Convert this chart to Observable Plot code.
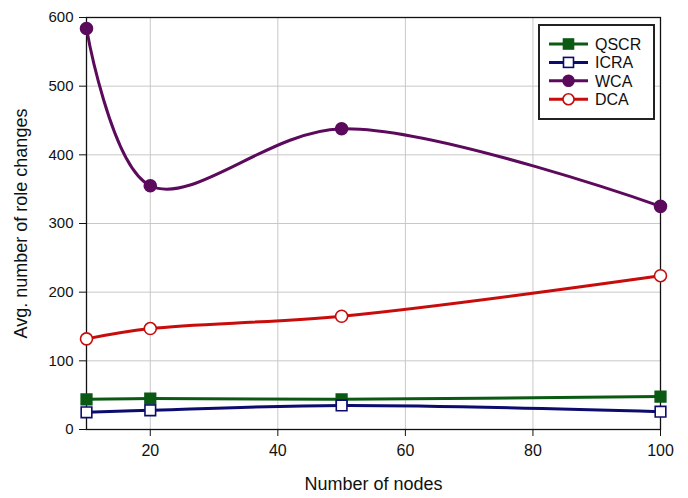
<!DOCTYPE html>
<html>
<head>
<meta charset="utf-8">
<script src="https://cdn.jsdelivr.net/npm/d3@7"></script>
<script src="https://cdn.jsdelivr.net/npm/@observablehq/plot@0.6"></script>
<style>
  html, body { margin: 0; padding: 0; background: #fff; }
  #chart { position: relative; width: 688px; height: 498px; font-family: "Liberation Sans", Arial, sans-serif; }
  #legend { position: absolute; left: 538px; top: 24px; }
</style>
</head>
<body>
<div id="chart"><div id="legend"></div></div>
<script>
// Number of nodes in each simulation run
const nodes = [10, 20, 50, 100];

// Average number of role changes per algorithm
const qscr = [44, 45, 44, 48];
const icra = [25, 28, 35, 26];
const wca  = [584, 355, 438, 325];
const dca  = [132, 147, 165, 224];

const seriesNames = ["QSCR", "ICRA", "WCA", "DCA"];
const seriesValues = [qscr, icra, wca, dca];
const seriesColors = ["#0b5a14", "#0c0c6e", "#5c0a5c", "#c80c0c"];
const seriesSymbols = ["square", "square", "circle", "circle"];
const seriesFilled = [true, false, true, false];

const xTicks = [20, 40, 60, 80, 100];
const yTicks = [0, 100, 200, 300, 400, 500, 600];

const rows = seriesNames.flatMap((name, i) =>
  nodes.map((n, j) => ({series: name, nodes: n, value: seriesValues[i][j], idx: i}))
);

const marks = [
  Plot.gridX(xTicks.filter(d => d < 100), {stroke: "#c8c8c8", strokeOpacity: 1, strokeWidth: 1}),
  Plot.gridY(yTicks.filter(d => d > 0 && d < 600), {stroke: "#c8c8c8", strokeOpacity: 1, strokeWidth: 1}),
  Plot.frame({stroke: "#111", strokeWidth: 1.3}),
  Plot.axisX(xTicks, {tickSize: 7, tickPadding: 8, fontSize: 16, stroke: "#111", fill: "#111",
    label: "Number of nodes", labelAnchor: "center", labelArrow: "none", labelOffset: 60}),
  Plot.axisY(yTicks, {tickSize: 7, tickPadding: 6, fontSize: 15, stroke: "#111", fill: "#111",
    label: "Avg. number of role changes", labelAnchor: "center", labelArrow: "none", labelOffset: 72})
];

seriesNames.forEach((name, i) => {
  const data = rows.filter(r => r.series === name);
  marks.push(Plot.line(data, {x: "nodes", y: "value", stroke: seriesColors[i], strokeWidth: 3, curve: "catmull-rom"}));
  marks.push(Plot.dot(data, {
    x: "nodes", y: "value", r: 6, symbol: seriesSymbols[i],
    fill: seriesFilled[i] ? seriesColors[i] : "white",
    stroke: seriesColors[i], strokeWidth: 1.6
  }));
});

const chart = Plot.plot({
  width: 688,
  height: 498,
  marginLeft: 86,
  marginRight: 28,
  marginTop: 17,
  marginBottom: 69,
  style: {fontFamily: "'Liberation Sans', Arial, sans-serif", fontSize: "16px", color: "#111", background: "white"},
  x: {domain: [10, 100]},
  y: {domain: [0, 600]},
  marks
});
document.getElementById("chart").prepend(chart);

// Axis title sizes
d3.select(chart).selectAll("[aria-label='x-axis label'] text, [aria-label='y-axis label'] text")
  .style("font-size", "18px");

// Legend box
const lg = d3.select("#legend").append("svg").attr("width", 118).attr("height", 97);
lg.append("rect").attr("x", 1).attr("y", 1).attr("width", 115).attr("height", 94)
  .attr("fill", "white").attr("stroke", "#222").attr("stroke-width", 2);
seriesNames.forEach((name, i) => {
  const y = 20 + i * 18.4;
  const g = lg.append("g");
  g.append("line").attr("x1", 11).attr("x2", 50).attr("y1", y).attr("y2", y)
    .attr("stroke", seriesColors[i]).attr("stroke-width", 3);
  if (seriesSymbols[i] === "square") {
    g.append("rect").attr("x", 30.5 - 5).attr("y", y - 5).attr("width", 10).attr("height", 10)
      .attr("fill", seriesFilled[i] ? seriesColors[i] : "white").attr("stroke", seriesColors[i]).attr("stroke-width", 1.6);
  } else {
    g.append("circle").attr("cx", 30.5).attr("cy", y).attr("r", 5.5)
      .attr("fill", seriesFilled[i] ? seriesColors[i] : "white").attr("stroke", seriesColors[i]).attr("stroke-width", 1.6);
  }
  g.append("text").attr("x", 57).attr("y", y).attr("dy", "0.36em")
    .attr("font-size", 16).attr("font-family", "'Liberation Sans', Arial, sans-serif").attr("fill", "#111")
    .text(name);
});
</script>
</body>
</html>
